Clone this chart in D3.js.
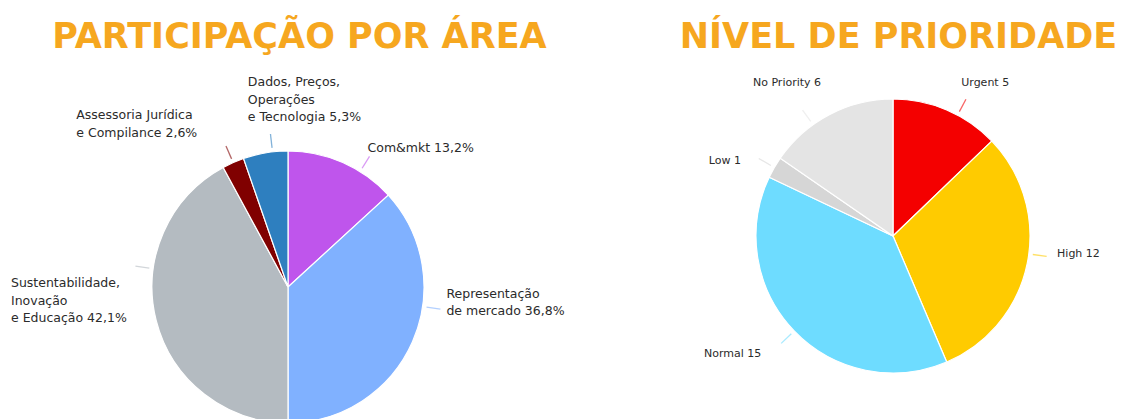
<!DOCTYPE html>
<html>
<head>
<meta charset="utf-8">
<script src="https://cdn.jsdelivr.net/npm/d3@7"></script>
<style>
  body { margin: 0; background: #fff; }
  svg { display: block; font-family: "DejaVu Sans", Verdana, sans-serif; }
</style>
</head>
<body>
<div id="chart"></div>
<script>
/* Two pies: participação por área + nível de prioridade */

// Participação por área (%)
const areaNames = ["Com&mkt", "Representação\nde mercado", "Sustentabilidade,\nInovação\ne Educação",
  "Assessoria Jurídica\ne Compilance", "Dados, Preços,\nOperações\ne Tecnologia"];
const areaValues = [13.2, 36.8, 42.1, 2.6, 5.3];
const areaColors = ["#bf55ec", "#80b1ff", "#b4bbc1", "#800000", "#2e7fbf"];

// Nível de prioridade (count)
const priorityNames = ["Urgent", "High", "Normal", "Low", "No Priority"];
const priorityValues = [5, 12, 15, 1, 6];
const priorityColors = ["#f40000", "#ffcb00", "#6edcff", "#d6d6d6", "#e4e4e4"];

// label placement: leader angle shift (deg) + text offset from leader end
const areaLabelLayout = [
  { shift: 8.2, anchor: "start", dx: -2, dy: -9 },
  { shift: -15.5, anchor: "start", dx: 6, dy: -16 },
  { shift: 22, anchor: "end", dx: -8.5, dy: 16.7 },
  { shift: 0, anchor: "end", dx: -28.6, dy: -31.2 },
  { shift: 3, anchor: "start", dx: -22.6, dy: -52.3 }
];
const priorityLabelLayout = [
  { shift: 5, anchor: "start", dx: -4.7, dy: -17 },
  { shift: -4, anchor: "start", dx: 10.4, dy: -3.2 },
  { shift: 0, anchor: "end", dx: -20, dy: 9.7 },
  { shift: 0, anchor: "end", dx: -17.8, dy: 1.5 },
  { shift: -8, anchor: "start", dx: -49.6, dy: -28 }
];

const width = 1121, height = 419;
const svg = d3.select("#chart").append("svg")
  .attr("width", width)
  .attr("height", height);

const fmtPct = v => v.toFixed(1).replace(".", ",") + "%";

function drawPie(cfg) {
  const data = cfg.names.map((n, i) => ({
    name: n, value: cfg.values[i], color: cfg.colors[i], layout: cfg.layout[i]
  }));
  const g = svg.append("g").attr("transform", `translate(${cfg.cx},${cfg.cy})`);

  const pie = d3.pie().sort(null).value(d => d.value);
  const arc = d3.arc().innerRadius(0).outerRadius(cfg.r);
  const arcs = pie(data);

  g.selectAll("path.slice")
    .data(arcs)
    .join("path")
    .attr("class", "slice")
    .attr("d", arc)
    .attr("fill", d => d.data.color)
    .attr("stroke", "#fff")
    .attr("stroke-width", 1.2);

  const pt = (a, rad) => [rad * Math.sin(a), -rad * Math.cos(a)];

  arcs.forEach(d => {
    const lay = d.data.layout;
    const a = (d.startAngle + d.endAngle) / 2 + lay.shift * Math.PI / 180;
    const p0 = pt(a, cfg.r + 4);
    const p1 = pt(a, cfg.r + 18);

    g.append("line")
      .attr("x1", p0[0]).attr("y1", p0[1])
      .attr("x2", p1[0]).attr("y2", p1[1])
      .attr("stroke", d.data.color)
      .attr("stroke-opacity", 0.6)
      .attr("stroke-width", 1.3);

    const lines = (d.data.name + " " + cfg.fmt(d.data.value)).split("\n");
    const lg = g.append("g");
    const t = lg.append("text")
      .attr("font-size", cfg.fontSize)
      .attr("fill", "#2b2b2b");
    lines.forEach((ln, i) => {
      t.append("tspan")
        .attr("x", 0)
        .attr("y", i * cfg.lineHeight)
        .attr("dominant-baseline", "central")
        .text(ln);
    });
    const w = t.node().getBBox().width;
    const x = p1[0] + lay.dx - (lay.anchor === "end" ? w : 0);
    lg.attr("transform", `translate(${x},${p1[1] + lay.dy})`);
  });

  svg.append("text")
    .attr("x", cfg.titleX)
    .attr("y", 48)
    .attr("text-anchor", "middle")
    .attr("font-size", 35)
    .attr("font-weight", "bold")
    .attr("fill", "#f6a71f")
    .text(cfg.title);
}

drawPie({
  title: "PARTICIPAÇÃO POR ÁREA", titleX: 299.5,
  names: areaNames, values: areaValues, colors: areaColors, layout: areaLabelLayout,
  cx: 288, cy: 287, r: 136, fontSize: 12.5, lineHeight: 17.5, fmt: fmtPct
});

drawPie({
  title: "NÍVEL DE PRIORIDADE", titleX: 898.5,
  names: priorityNames, values: priorityValues, colors: priorityColors, layout: priorityLabelLayout,
  cx: 893, cy: 236, r: 137, fontSize: 11, lineHeight: 15, fmt: v => String(v)
});
</script>
</body>
</html>
